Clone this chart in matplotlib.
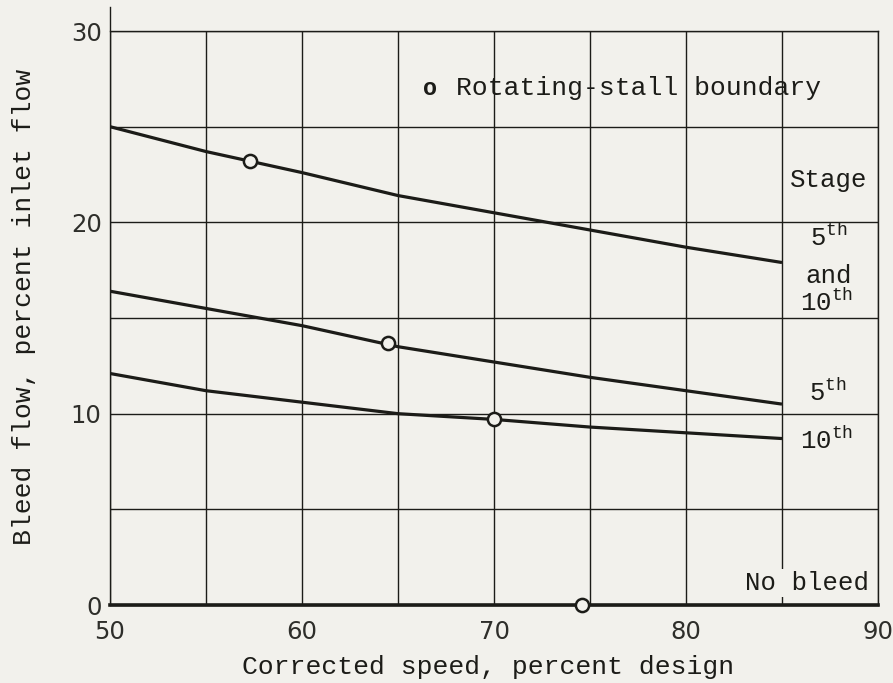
import matplotlib.pyplot as plt
import numpy as np

# values
speed = [50, 55, 60, 65, 70, 75, 80, 85]
bleed_both = [25.0, 23.7, 22.6, 21.4, 20.5, 19.6, 18.7, 17.9]
bleed_5th = [16.4, 15.5, 14.6, 13.5, 12.7, 11.9, 11.2, 10.5]
bleed_10th = [12.1, 11.2, 10.6, 10.0, 9.7, 9.3, 9.0, 8.7]
nobleed_x = [50, 90]
nobleed_y = [0, 0]
stall_x = [57.3, 64.5, 70.0, 74.6]
stall_y = [23.2, 13.7, 9.7, 0.0]

bg = '#f2f1ec'
ink = '#1c1c18'
mono = 'Liberation Mono'

plt.rcParams['mathtext.fontset'] = 'custom'
plt.rcParams['mathtext.rm'] = mono
plt.rcParams['mathtext.it'] = mono

fig = plt.figure(figsize=(8.93, 6.83), dpi=100, facecolor=bg)
ax = fig.add_axes([0.1232, 0.1142, 0.86, 0.8404])
ax.set_facecolor(bg)

ax.set_xlim(50, 90)
ax.set_ylim(0, 30)
ax.set_xticks(np.arange(50, 91, 10))
ax.set_xticks(np.arange(50, 91, 5), minor=True)
ax.set_yticks(np.arange(0, 31, 10))
ax.set_yticks(np.arange(0, 31, 5), minor=True)
ax.grid(which='both', color=ink, linewidth=1.0)
ax.set_axisbelow(True)
ax.tick_params(which='both', length=0)
ax.tick_params(axis='y', pad=6, labelsize=17.5, labelcolor='#2e2e2a')
ax.tick_params(axis='x', pad=11, labelsize=17.5, labelcolor='#2e2e2a')
for s in ax.spines.values():
    s.set_color(ink)
    s.set_linewidth(1.0)
ax.spines['left'].set_bounds(0, 31.25)

for yy in (bleed_both, bleed_5th, bleed_10th):
    ax.plot(speed, yy, color=ink, linewidth=2.3, solid_capstyle='butt', zorder=3)
ax.plot(nobleed_x, nobleed_y, color=ink, linewidth=2.6, clip_on=False, zorder=3)
ax.plot(stall_x, stall_y, 'o', markersize=9.5, markerfacecolor=bg,
        markeredgecolor=ink, markeredgewidth=1.8, clip_on=False, zorder=4)

# legend-like note
ax.text(66.3, 27.0, 'o', fontsize=17, fontweight='bold', family=mono,
        color=ink, ha='left', va='center')
ax.text(68.0, 27.0, 'Rotating-stall boundary', fontsize=19, family=mono,
        color=ink, ha='left', va='center')

# curve labels at the right
lab = dict(fontsize=18.5, family=mono, color=ink, ha='center', va='center')
ax.text(87.45, 22.2, 'Stage', **lab)
ax.text(87.45, 19.2, r'$\mathrm{5^{th}}$', **lab)
ax.text(87.45, 17.2, 'and', **lab)
ax.text(87.3, 15.8, r'$\mathrm{10^{th}}$', **lab)
ax.text(87.4, 11.1, r'$\mathrm{5^{th}}$', **lab)
ax.text(87.3, 8.6, r'$\mathrm{10^{th}}$', **lab)
ax.text(89.55, 1.15, 'No bleed', fontsize=18.5, family=mono, color=ink,
        ha='right', va='center',
        bbox=dict(facecolor=bg, edgecolor='none', pad=1.5))

ax.set_xlabel('Corrected speed, percent design', fontsize=19, family=mono, color=ink)
ax.set_ylabel('Bleed flow, percent inlet flow', fontsize=19, family=mono, color=ink)
ax.xaxis.set_label_coords(0.492, -0.087)
ax.yaxis.set_label_coords(-0.096, 0.52)

fig.savefig('out.png', dpi=100, facecolor=bg)
